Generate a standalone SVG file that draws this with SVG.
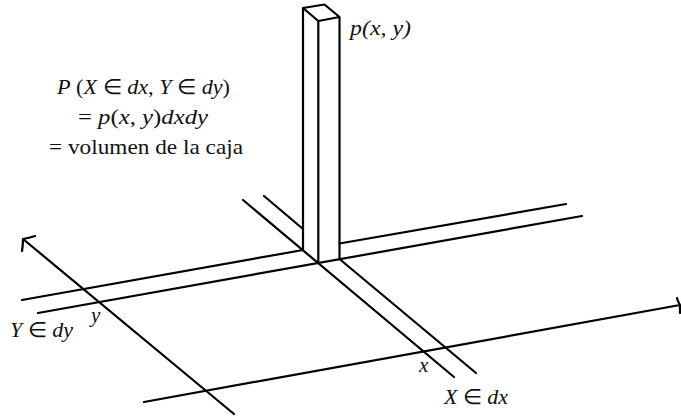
<svg xmlns="http://www.w3.org/2000/svg" width="681" height="417" viewBox="0 0 681 417">
<style>
.l{fill:none;stroke:#000;stroke-width:2.200;stroke-linecap:round;stroke-linejoin:round}
text{font-family:"Liberation Serif","Times New Roman",serif;font-size:21px;fill:#111}
.i{font-style:italic}
</style>
<rect width="681" height="417" fill="#fff"/>
<g id="connectors">
<path class="l" d="M144 402L680 305M677 298Q678 302 680 305M680 313Q680 309 680 305"/>
<path class="l" d="M234 414L23 239M35 236Q29 238 23 239M22 251Q23 245 23 239"/>
<path class="l" d="M22 300L303 250M339.500 243.500L566 204"/>
<path class="l" d="M38 313L582 216"/>
<path class="l" d="M243 200L454 377"/>
<path class="l" d="M264 196L303 229M339.500 259L476 373"/>
</g>
<g id="box">
<path class="l" d="M303 250V8L324.500 4.500L339.500 17L318.300 21L303 8M318.300 21V263M339.500 17V259"/>
</g>
<g id="labels">
<text class="i" x="350" y="35" textLength="61" lengthAdjust="spacingAndGlyphs">p(x, y)</text>
<text x="57" y="94" textLength="173" lengthAdjust="spacingAndGlyphs"><tspan class="i">P</tspan> (<tspan class="i">X</tspan> ∈ <tspan class="i">dx</tspan>, <tspan class="i">Y</tspan> ∈ <tspan class="i">dy</tspan>)</text>
<text x="78" y="124" textLength="130" lengthAdjust="spacingAndGlyphs">= <tspan class="i">p</tspan>(<tspan class="i">x</tspan>, <tspan class="i">y</tspan>)<tspan class="i">dxdy</tspan></text>
<text x="49" y="154" textLength="194" lengthAdjust="spacingAndGlyphs">= volumen de la caja</text>
<text x="10" y="337" textLength="63" lengthAdjust="spacingAndGlyphs"><tspan class="i">Y</tspan> ∈ <tspan class="i">dy</tspan></text>
<text class="i" x="91" y="322">y</text>
<text class="i" x="419" y="372">x</text>
<text x="444" y="404" textLength="64" lengthAdjust="spacingAndGlyphs"><tspan class="i">X</tspan> ∈ <tspan class="i">dx</tspan></text>
</g>
</svg>
